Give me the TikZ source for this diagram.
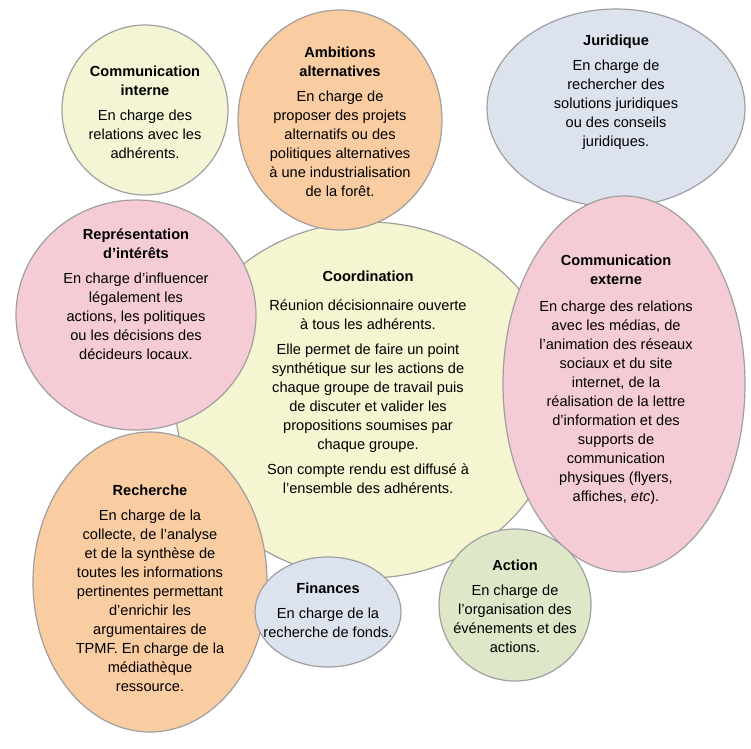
\documentclass[tikz,border=0pt]{standalone}
\usepackage{fontspec}
\setmainfont{Liberation Sans}
\begin{document}
\begin{tikzpicture}[x=1pt,y=-1pt,
  blob/.style={draw=gray!75,line width=1.2pt},
  txt/.style={align=center,font=\fontsize{14.6}{19}\selectfont,inner sep=0pt}]
\useasboundingbox (0,0) rectangle (751,748);
\definecolor{cyel}{HTML}{F5F5D2}
\definecolor{cpeach}{HTML}{F9CCA2}
\definecolor{cblue}{HTML}{DCE3EE}
\definecolor{cpink}{HTML}{F5CCD6}
\definecolor{cgreen}{HTML}{DEE8C8}
\definecolor{cyel2}{HTML}{F3F5D4}
\filldraw[blob,fill=cyel] (368,400) ellipse [x radius=193,y radius=178];
\filldraw[blob,fill=cyel2] (145,110) ellipse [x radius=83,y radius=85];
\filldraw[blob,fill=cpeach] (340,120) ellipse [x radius=102,y radius=110];
\filldraw[blob,fill=cblue] (616,108) ellipse [x radius=129,y radius=99];
\filldraw[blob,fill=cpink] (136,315) ellipse [x radius=120,y radius=115];
\filldraw[blob,fill=cpink] (624,384) ellipse [x radius=121,y radius=188];
\filldraw[blob,fill=cpeach] (150,582) ellipse [x radius=117,y radius=150];
\filldraw[blob,fill=cblue] (328,612) ellipse [x radius=73,y radius=55];
\filldraw[blob,fill=cgreen] (515,605) ellipse [x radius=76,y radius=76];

\node[txt] (coord) at (368,382) {\textbf{Coordination}\\[10pt]
Réunion décisionnaire ouverte\\à tous les adhérents.\\[6pt]
Elle permet de faire un point\\synthétique sur les actions de\\chaque groupe de travail puis\\de discuter et valider les\\propositions soumises par\\chaque groupe.\\[6pt]
Son compte rendu est diffusé à\\l’ensemble des adhérents.};
\node[txt] (ci) at (145,112) {\textbf{Communication}\\\textbf{interne}\\[6pt]En charge des\\relations avec les\\adhérents.};
\node[txt] (amb) at (340,122) {\textbf{Ambitions}\\\textbf{alternatives}\\[6pt]En charge de\\proposer des projets\\alternatifs ou des\\politiques alternatives\\à une industrialisation\\de la forêt.};
\node[txt] (jur) at (616,92) {\textbf{Juridique}\\[6pt]En charge de\\rechercher des\\solutions juridiques\\ou des conseils\\juridiques.};
\node[txt] (rep) at (136,294) {\textbf{Représentation}\\\textbf{d’intérêts}\\[6pt]En charge d’influencer\\légalement les\\actions, les politiques\\ou les décisions des\\décideurs locaux.};
\node[txt] (ce) at (616,380) {\textbf{Communication}\\\textbf{externe}\\[8pt]En charge des relations\\avec les médias, de\\l’animation des réseaux\\sociaux et du site\\internet, de la\\réalisation de la lettre\\d’information et des\\supports de\\communication\\physiques (flyers,\\affiches, \textit{etc}).};
\node[txt] (rec) at (150,588) {\textbf{Recherche}\\[6pt]En charge de la\\collecte, de l’analyse\\et de la synthèse de\\toutes les informations\\pertinentes permettant\\d’enrichir les\\argumentaires de\\TPMF. En charge de la\\médiathèque\\ressource.};
\node[txt] (fin) at (328,610) {\textbf{Finances}\\[6pt]En charge de la\\recherche de fonds.};
\node[txt] (act) at (515,606) {\textbf{Action}\\[6pt]En charge de\\l’organisation des\\événements et des\\actions.};
\end{tikzpicture}
\end{document}
